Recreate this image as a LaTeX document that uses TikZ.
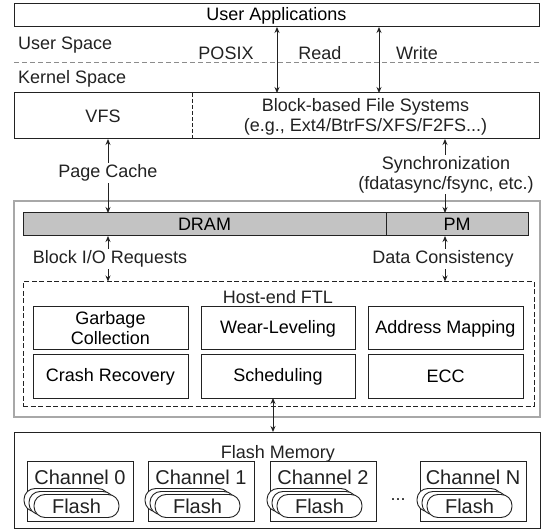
\documentclass[tikz,border=0pt]{standalone}
\usepackage{fontspec}
\setmainfont{Liberation Sans}
\usetikzlibrary{arrows.meta}
\definecolor{linec}{HTML}{222222}
\definecolor{outerc}{HTML}{A8A8A8}
\definecolor{dramc}{HTML}{C3C3C3}
\definecolor{sepc}{HTML}{8C8C8C}
\newcommand\mainfs{\fontsize{18}{20}\selectfont}
\newcommand\chfs{\fontsize{20}{22}\selectfont}
\begin{document}
\begin{tikzpicture}[x=1pt,y=-1pt,
  box/.style={draw=linec, line width=1pt, inner sep=0pt, outer sep=0pt, align=center, font=\mainfs},
  lbl/.style={inner sep=1pt, font=\mainfs, align=center, text=linec},
  wlbl/.style={lbl, fill=white, inner sep=2pt},
  biarrow/.style={{Stealth[length=6pt,width=5pt]}-{Stealth[length=6pt,width=5pt]}, line width=0.9pt, draw=linec},
  chbox/.style={draw=linec, line width=1pt, inner sep=0pt, minimum width=106pt, minimum height=60pt},
  pill/.style={draw=linec, line width=0.9pt, fill=white, rounded corners=11pt, minimum width=85pt, minimum height=23pt, inner sep=0pt, font=\chfs, text=linec}
]
\useasboundingbox (0,0) rectangle (541,529);

% ---------- user space ----------
\node[box, minimum width=525pt, minimum height=23pt] (ua) at (276.5,15.5) {User Applications};
\node[lbl, anchor=west] (us) at (17,45) {User Space};
\node[lbl, anchor=west] (ks) at (17,79) {Kernel Space};
\coordinate (sepL) at (14,62);
\coordinate (sepR) at (539,62);
\draw[sepc, line width=0.9pt, dash pattern=on 5pt off 3pt] (sepL) -- (sepR);
\node[lbl, anchor=base] (posix) at (226,60) {POSIX};
\node[lbl, anchor=base] (read) at (320,60) {Read};
\node[lbl, anchor=base] (write) at (417,60) {Write};

% ---------- kernel ----------
\node[box, minimum width=525pt, minimum height=46pt] (kern) at (276.5,116) {};
\coordinate (divx) at (192,0);
\draw[linec, line width=0.8pt, dash pattern=on 4pt off 2pt] (kern.north -| divx) -- (kern.south -| divx);
\node[lbl] (vfs) at (103,116) {VFS};
\node[lbl] (bfs) at (365.5,116.5) {Block-based File Systems\\(e.g., Ext4/BtrFS/XFS/F2FS...)};

\coordinate (a1) at (277,0);
\coordinate (a2) at (379,0);
\draw[biarrow] (ua.south -| a1) -- (kern.north -| a1);
\draw[biarrow] (ua.south -| a2) -- (kern.north -| a2);

% ---------- host ----------
\node[draw=outerc, line width=1.4pt, inner sep=0pt, minimum width=526pt, minimum height=216pt] (host) at (277,309) {};
\node[box, fill=dramc, minimum width=363pt, minimum height=23pt] (dram) at (204.5,224.5) {DRAM};
\node[box, fill=dramc, minimum width=142pt, minimum height=23pt] (pm) at (457,224.5) {PM};

\coordinate (lx) at (108,0);
\coordinate (rx) at (445,0);
\draw[biarrow] (kern.south -| lx) -- (dram.north -| lx);
\node[wlbl] (pc) at (108,173) {Page Cache};
\draw[biarrow] (kern.south -| rx) -- (pm.north -| rx);
\node[wlbl, inner ysep=1pt] (sync) at (446,174.5) {Synchronization\\(fdatasync/fsync, etc.)};

\node[draw=linec, line width=1pt, dash pattern=on 5pt off 2.5pt, inner sep=0pt, minimum width=511pt, minimum height=124pt] (ftl) at (278.5,344) {};
\draw[biarrow] (dram.south -| lx) -- (ftl.north -| lx);
\node[wlbl] (bio) at (110,259) {Block I/O Requests};
\draw[biarrow] (pm.south -| rx) -- (ftl.north -| rx);
\node[wlbl] (dc) at (443,259) {Data Consistency};

\node[lbl, anchor=base] (hftl) at (278,304) {Host-end FTL};
\node[box, minimum width=155pt, minimum height=43pt] (gc) at (110.5,328.5) {Garbage\\Collection};
\node[box, minimum width=154pt, minimum height=43pt] (wl) at (278,328.5) {Wear-Leveling};
\node[box, minimum width=155pt, minimum height=43pt] (am) at (445.5,328.5) {Address Mapping};
\node[box, minimum width=155pt, minimum height=43pt] (cr) at (110.5,376.5) {Crash Recovery};
\node[box, minimum width=154pt, minimum height=43pt] (sch) at (278,376.5) {Scheduling};
\node[box, minimum width=155pt, minimum height=43pt] (ecc) at (445.5,376.5) {ECC};

% ---------- flash ----------
\node[box, minimum width=526pt, minimum height=96pt] (flash) at (277,480) {};
\coordinate (bx) at (273,0);
\draw[biarrow] (sch.south -| bx) -- (flash.north -| bx);
\node[lbl, anchor=base] (fm) at (278,458) {Flash Memory};

\foreach \cx/\name/\lab in {80/ch0/0, 201/ch1/1, 323/ch2/2, 473/chN/N}{
  \node[chbox] (\name) at (\cx,491) {};
  \node[lbl, font=\chfs, anchor=base] (\name t) at (\cx,484) {Channel \lab};
  \node[pill] (\name p3) at (\cx-3.5-10,500) {};
  \node[pill] (\name p2) at (\cx-3.5-5,503) {};
  \node[pill] (\name p1) at (\cx-3.5,506) {Flash};
}
\node[lbl] (dots) at (398,500) {...};
\end{tikzpicture}
\end{document}
